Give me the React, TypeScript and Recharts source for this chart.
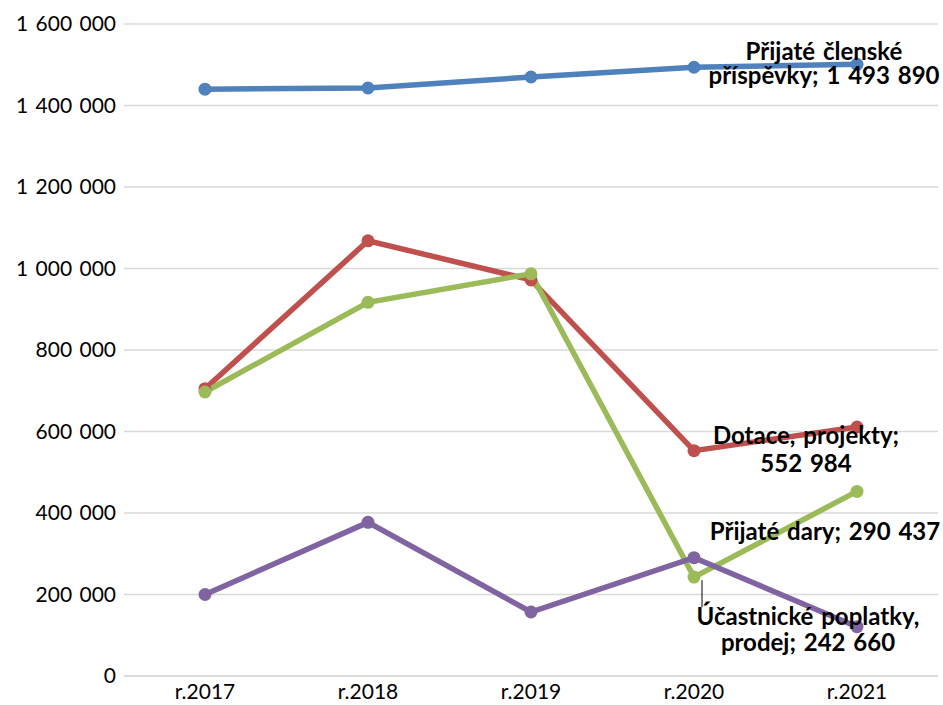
import { LineChart, Line, XAxis, YAxis, CartesianGrid } from 'recharts';

// Years on the category axis
const years = ['r.2017', 'r.2018', 'r.2019', 'r.2020', 'r.2021'];

// Series values (2020 values are from the data labels)
const clenskePrispevky = [1440000, 1443000, 1470000, 1493890, 1501000];
const dotaceProjekty = [705000, 1068000, 972000, 552984, 611000];
const ucastnickePoplatky = [697000, 917000, 987000, 242660, 453000];
const prijateDary = [200000, 377000, 157000, 290437, 121000];

const yTicks = [0, 200000, 400000, 600000, 800000, 1000000, 1200000, 1400000, 1600000];

const LABEL_INDEX = 3; // labels sit on the r.2020 point

const data = years.map((year, i) => ({
  year,
  clenske: clenskePrispevky[i],
  dotace: dotaceProjekty[i],
  ucastnicke: ucastnickePoplatky[i],
  dary: prijateDary[i],
}));

const FONT = 'Lato, "Open Sans", sans-serif';

function fmt(v: number): string {
  return Math.round(v)
    .toString()
    .replace(/\B(?=(\d{3})+(?!\d))/g, ' ');
}

// Label lines centred at x + dx, baselines at y + dys[i]
function makeLabel(
  lines: (value: number) => string[],
  dx: number,
  dys: number[],
  leader?: [number, number, number],
) {
  return (props: any) => {
    const { x, y, index, value } = props;
    if (index !== LABEL_INDEX) return <g key={`e-${index}`} />;
    const texts = lines(value);
    return (
      <g key={`l-${index}`}>
        {leader && (
          <line
            x1={x + leader[0]}
            y1={y + leader[1]}
            x2={x + leader[0]}
            y2={y + leader[2]}
            stroke="#000"
            strokeWidth={1}
          />
        )}
        {texts.map((t, i) => (
          <text
            key={i}
            x={x + dx}
            y={y + dys[i]}
            textAnchor="middle"
            fontFamily={FONT}
            fontWeight={700}
            fontSize={24}
            fill="#000"
            style={{ wordSpacing: 2 }}
          >
            {t}
          </text>
        ))}
      </g>
    );
  };
}

const tickStyle = { fill: '#000', fontSize: 21, fontFamily: FONT, wordSpacing: 2 };

export default function App() {
  return (
    <div style={{ position: 'absolute', left: 0, top: 0, background: '#fff' }}>
      <LineChart
        width={943}
        height={705}
        data={data}
        margin={{ top: 24, right: 5, bottom: 0, left: 0 }}
      >
        <CartesianGrid vertical={false} stroke="#D9D9D9" strokeWidth={1.5} />
        <XAxis
          dataKey="year"
          height={29}
          padding={{ left: 81, right: 81 }}
          tick={tickStyle}
          tickLine={false}
          axisLine={{ stroke: '#D9D9D9', strokeWidth: 1.5 }}
        />
        <YAxis
          width={124}
          domain={[0, 1600000]}
          ticks={yTicks}
          tickFormatter={fmt}
          tick={tickStyle}
          tickLine={false}
          axisLine={false}
          interval={0}
        />
        <Line
          dataKey="clenske"
          stroke="#4F81BD"
          strokeWidth={5.5}
          dot={{ r: 6.5, fill: '#4F81BD', stroke: '#4F81BD', strokeWidth: 0 }}
          isAnimationActive={false}
          label={makeLabel((v) => ['Přijaté členské', `příspěvky; ${fmt(v)}`], 130, [-7, 17])}
        />
        <Line
          dataKey="dotace"
          stroke="#C0504D"
          strokeWidth={5.5}
          dot={{ r: 6.5, fill: '#C0504D', stroke: '#C0504D', strokeWidth: 0 }}
          isAnimationActive={false}
          label={makeLabel((v) => ['Dotace, projekty;', fmt(v)], 112, [-7, 21])}
        />
        <Line
          dataKey="ucastnicke"
          stroke="#9BBB59"
          strokeWidth={5.5}
          dot={{ r: 6.5, fill: '#9BBB59', stroke: '#9BBB59', strokeWidth: 0 }}
          isAnimationActive={false}
          label={makeLabel(
            (v) => ['Účastnické poplatky,', `prodej; ${fmt(v)}`],
            114,
            [48, 74],
            [8, 3, 30],
          )}
        />
        <Line
          dataKey="dary"
          stroke="#8064A2"
          strokeWidth={5.5}
          dot={{ r: 6.5, fill: '#8064A2', stroke: '#8064A2', strokeWidth: 0 }}
          isAnimationActive={false}
          label={makeLabel((v) => [`Přijaté dary; ${fmt(v)}`], 131, [-18])}
        />
      </LineChart>
    </div>
  );
}
